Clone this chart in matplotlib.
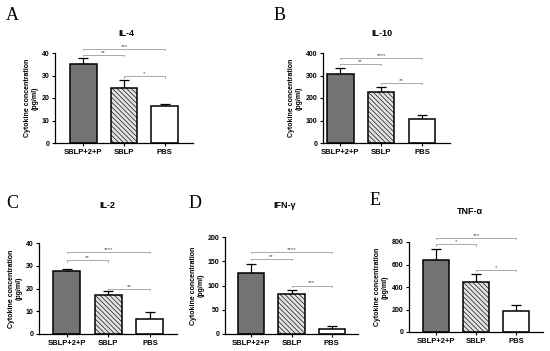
import numpy as np
import matplotlib
matplotlib.use("Agg")
import matplotlib.pyplot as plt

plt.rcParams['font.family'] = ['Liberation Sans', 'DejaVu Sans']
plt.rcParams['hatch.linewidth'] = 0.45
plt.rcParams['hatch.color'] = '#808080'

groups = ["SBLP+2+P", "SBLP", "PBS"]
letters = ["A", "B", "C", "D", "E"]
titles = ["IL-4", "IL-10", "IL-2", "IFN-γ", "TNF-α"]

means = [
    [35.0, 24.6, 16.4],
    [305, 225, 108],
    [27.5, 17.3, 6.7],
    [126, 82.5, 10.3],
    [637, 444, 184],
]
errs = [
    [2.8, 3.5, 1.1],
    [28, 24, 15],
    [1.2, 1.5, 3.0],
    [18, 9, 5.5],
    [104, 74, 53],
]
ymax = [40, 400, 40, 200, 800]
yticks = [
    [0, 10, 20, 30, 40],
    [0, 100, 200, 300, 400],
    [0, 10, 20, 30, 40],
    [0, 50, 100, 150, 200],
    [0, 200, 400, 600, 800],
]
# (bar i, bar j, y, stars)
sig = [
    [(0, 2, 41.9, "***"), (0, 1, 39.3, "**"), (1, 2, 29.6, "*")],
    [(0, 2, 379, "****"), (0, 1, 353, "**"), (1, 2, 267, "**")],
    [(0, 2, 36.0, "****"), (0, 1, 32.4, "**"), (1, 2, 19.9, "**")],
    [(0, 2, 170, "****"), (0, 1, 155, "**"), (1, 2, 100, "***")],
    [(0, 2, 839, "***"), (0, 1, 779, "*"), (1, 2, 554, "*")],
]

# axes boxes in pixels: left, right, top, bottom ; xlim
W, H = 550, 351
boxes = [
    (55, 193, 53, 143, (-0.70, 2.70)),
    (323, 450, 53, 143, (-0.42, 2.68)),
    (39, 177, 243, 334, (-0.67, 2.65)),
    (225, 358, 237, 334, (-0.66, 2.66)),
    (409, 543, 242, 332, (-0.66, 2.66)),
]
letter_pos = [(6, 20), (274, 20), (6, 208), (189, 208), (370, 205)]
title_pos = [(126, 33), (382, 33), (107, 205), (285, 205), (470, 211)]

fig = plt.figure(figsize=(W / 100, H / 100), dpi=100)
fig.patch.set_facecolor('white')

colors = ['#737373', '#e2e2e2', 'white']
hatches = [None, '\\\\\\\\\\\\\\', None]

for k in range(5):
    l, r, t, b, xl = boxes[k]
    ax = fig.add_axes([l / W, 1 - b / H, (r - l) / W, (b - t) / H])
    x = np.arange(3)
    for i in range(3):
        ax.bar(x[i], means[k][i], width=0.65, color=colors[i], edgecolor='black',
               linewidth=1.1, hatch=hatches[i], zorder=2)
        ax.errorbar(x[i], means[k][i], yerr=[[0], [errs[k][i]]], fmt='none',
                    ecolor='black', elinewidth=0.9, capsize=3.5, capthick=0.9, zorder=1)
    ax.set_xlim(*xl)
    ax.set_ylim(0, ymax[k])
    ax.set_yticks(yticks[k])
    ax.set_xticks(x)
    ax.set_xticklabels(groups, fontsize=5.5, fontweight='bold')
    for lab in ax.get_yticklabels():
        lab.set_fontsize(5)
        lab.set_fontweight('bold')
    ax.tick_params(axis='both', length=2.5, width=0.8, pad=1.5)
    for s in ['top', 'right']:
        ax.spines[s].set_visible(False)
    for s in ['left', 'bottom']:
        ax.spines[s].set_linewidth(0.9)
    ax.set_ylabel("Cytokine concentration\n(pg/ml)", fontsize=5, fontweight='bold',
                  labelpad=2, linespacing=1.2)

    tick = ymax[k] * 0.015
    for i, j, y, st in sig[k]:
        ax.plot([i, i, j, j], [y - tick, y, y, y - tick], color='#888888', lw=0.5,
                clip_on=False, zorder=3)
        ax.text((i + j) / 2, y, st, ha='center', va='bottom', fontsize=4.5,
                color='#555555', clip_on=False)

    fig.text(title_pos[k][0] / W, 1 - title_pos[k][1] / H, titles[k],
             fontsize=6.5, fontweight='bold', ha='center', va='center')
    fig.text(letter_pos[k][0] / W, 1 - letter_pos[k][1] / H, letters[k],
             fontsize=13, family='Liberation Serif', va='baseline', ha='left')

fig.savefig("out.png", dpi=100, facecolor='white')
